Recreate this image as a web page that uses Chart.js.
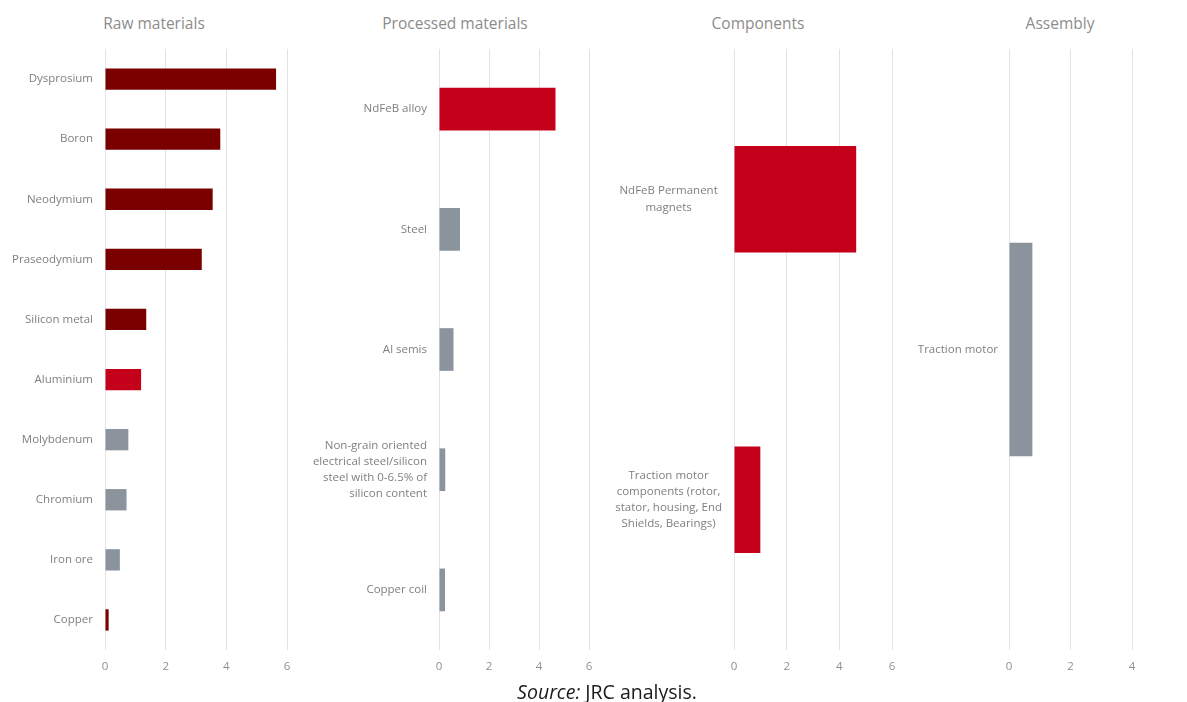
<!DOCTYPE html>
<html>
<head>
<meta charset="utf-8">
<script src="https://cdn.jsdelivr.net/npm/chart.js@4/dist/chart.umd.min.js"></script>
<style>
  body { margin: 0; width: 1187px; height: 702px; overflow: hidden; background: #fff; font-family: "Open Sans", sans-serif; position: relative; }
  canvas { position: absolute; top: 0; }
  .title { position: absolute; top: 12px; font-size: 15.5px; color: #8c8c8c; transform: translateX(-50%); white-space: nowrap; }
  #source { position: absolute; top: 678px; left: 607px; transform: translateX(-50%); font-size: 19.5px; color: #1a1a1a; white-space: nowrap; }
</style>
</head>
<body>
<div class="title" style="left:154px">Raw materials</div>
<div class="title" style="left:455px">Processed materials</div>
<div class="title" style="left:758px">Components</div>
<div class="title" style="left:1060px">Assembly</div>

<canvas id="raw" width="298" height="680" style="left:0px"></canvas>
<canvas id="proc" width="305" height="680" style="left:300px"></canvas>
<canvas id="comp" width="300" height="680" style="left:605px"></canvas>
<canvas id="asm" width="282" height="680" style="left:905px"></canvas>

<div id="source"><i>Source:</i> JRC analysis.</div>

<script>
const DARK = '#7a0000', RED = '#c4001a', GREY = '#8b949c';

// Raw materials
const rawLabels = ['Dysprosium', 'Boron', 'Neodymium', 'Praseodymium', 'Silicon metal', 'Aluminium', 'Molybdenum', 'Chromium', 'Iron ore', 'Copper'];
const rawValues = [5.64, 3.80, 3.55, 3.19, 1.36, 1.19, 0.77, 0.71, 0.49, 0.12];
const rawColors = [DARK, DARK, DARK, DARK, DARK, RED, GREY, GREY, GREY, DARK];
const rawTicks = [0, 2, 4, 6];

// Processed materials
const procLabels = ['NdFeB alloy', 'Steel', 'Al semis',
  ['Non-grain oriented', 'electrical steel/silicon', 'steel with 0-6.5% of', 'silicon content'], 'Copper coil'];
const procValues = [4.66, 0.84, 0.58, 0.25, 0.24];
const procColors = [RED, GREY, GREY, GREY, GREY];
const procTicks = [0, 2, 4, 6];

// Components
const compLabels = [['NdFeB Permanent', 'magnets'],
  ['Traction motor', 'components (rotor,', 'stator, housing, End', 'Shields, Bearings)']];
const compValues = [4.64, 1.0];
const compColors = [RED, RED];
const compTicks = [0, 2, 4, 6];

// Assembly
const asmLabels = ['Traction motor'];
const asmValues = [0.76];
const asmColors = [GREY];
const asmTicks = [0, 2, 4];

function makePanel(id, labels, values, colors, ticks, yWidth, padRight, labelPad, crossAlign) {
  new Chart(document.getElementById(id), {
    type: 'bar',
    data: {
      labels: labels,
      datasets: [{
        data: values,
        backgroundColor: colors,
        borderWidth: 0,
        categoryPercentage: 1,
        barPercentage: 0.355
      }]
    },
    options: {
      indexAxis: 'y',
      responsive: false,
      animation: false,
      layout: { padding: { top: 49, right: padRight, left: 0, bottom: 0 } },
      plugins: { legend: { display: false }, tooltip: { enabled: false } },
      scales: {
        x: {
          min: 0,
          max: ticks[ticks.length - 1],
          afterBuildTicks: s => { s.ticks = ticks.map(v => ({ value: v })); },
          afterFit: s => { s.height = 30; s.paddingLeft = 0; s.paddingRight = 0; },
          grid: { color: '#e3e3e3', drawTicks: false },
          border: { display: false },
          ticks: { color: '#909090', padding: 10, maxRotation: 0, font: { family: 'Open Sans', size: 11.5 } }
        },
        y: {
          afterFit: s => { s.width = yWidth; },
          grid: { display: false, drawTicks: false },
          border: { display: false },
          ticks: {
            color: '#7f7f7f', padding: labelPad, crossAlign: crossAlign, autoSkip: false,
            font: { family: 'Open Sans', size: 11.5, lineHeight: 1.4 }
          }
        }
      }
    }
  });
}

makePanel('raw', rawLabels, rawValues, rawColors, rawTicks, 105, 11, 12, 'near');
makePanel('proc', procLabels, procValues, procColors, procTicks, 139, 16, 12, 'near');
makePanel('comp', compLabels, compValues, compColors, compTicks, 129, 13, 12, 'center');
makePanel('asm', asmLabels, asmValues, asmColors, asmTicks, 104, 55, 11, 'near');
</script>
</body>
</html>
